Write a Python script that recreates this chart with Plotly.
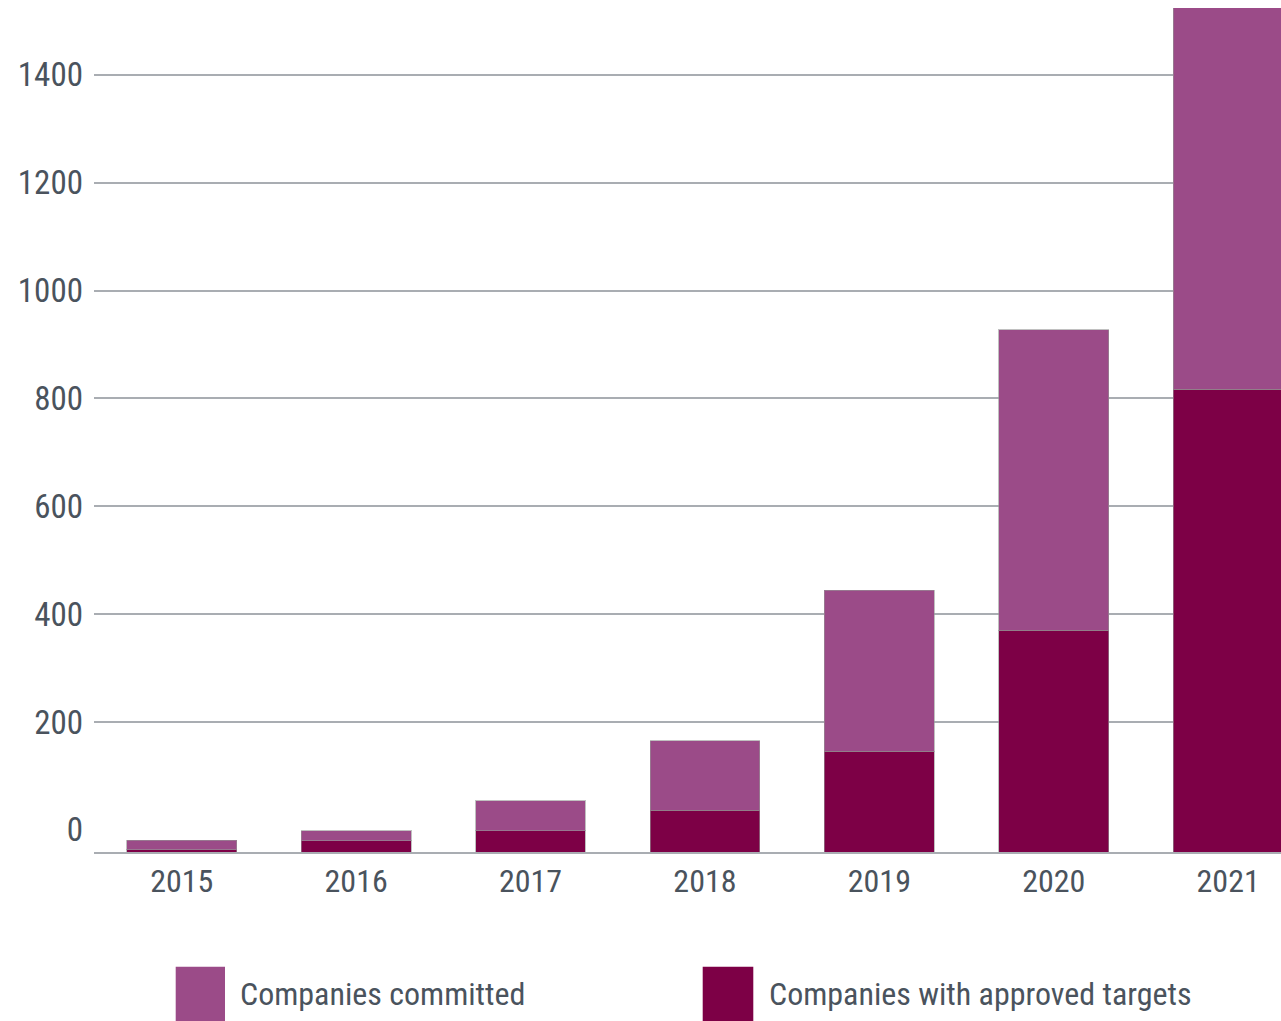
import plotly.graph_objects as go

# Companies setting science-based targets, by year
years = ["2015", "2016", "2017", "2018", "2019", "2020", "2021"]
approved = [4, 21, 39, 77, 187, 411, 858]        # companies with approved targets
committed = [18, 18, 56, 129, 298, 558, 742]     # companies committed (stacked on top)

tick_values = [0, 200, 400, 600, 800, 1000, 1200, 1400]
tick_labels = ["0", "200", "400", "600", "800", "1000", "1200", "1400"]

legend_names = ["Companies committed", "Companies with approved targets"]

COL_COMMITTED = "#9B4B88"
COL_APPROVED = "#7D0046"
TEXT_COL = "#4A535D"
GRID_COL = "#A9ADB2"
FONT = "Liberation Sans Narrow, Arial Narrow, Roboto Condensed, Roboto, sans-serif"

W, H = 1281, 1021
M_L, M_R, M_T, M_B = 94, 0, 8, 169
PLOT_W = W - M_L - M_R
PLOT_H = H - M_T - M_B

# value scale shared by both y axes (pixels per company)
PX_PER_UNIT = 0.5392
BAR_TOP = PLOT_H / PX_PER_UNIT
LABEL_OFFSET = 22.2 / PX_PER_UNIT   # labelled axis sits above the baseline

fig = go.Figure()
# empty trace keeps the labelled y axis (with its grid) in the subplot
fig.add_trace(go.Scatter(x=[], y=[], yaxis="y", showlegend=False, hoverinfo="skip"))
fig.add_trace(go.Bar(
    x=years, y=approved, name=legend_names[1], yaxis="y2",
    marker=dict(color=COL_APPROVED, line=dict(color="rgba(150,150,150,0.6)", width=1)),
    width=0.63, showlegend=False,
))
fig.add_trace(go.Bar(
    x=years, y=committed, name=legend_names[0], yaxis="y2",
    marker=dict(color=COL_COMMITTED, line=dict(color="rgba(150,150,150,0.6)", width=1)),
    width=0.63, showlegend=False,
))


def px_to_paper_x(px):
    return (px - M_L) / PLOT_W


def px_to_paper_y(py):
    return (H - M_B - py) / PLOT_H


# legend swatches and labels
swatches = [(175.7, 225.0, COL_COMMITTED), (702.7, 753.3, COL_APPROVED)]
label_x = [238, 767]
shapes = []
annotations = []
for (x0, x1, col), lx, name in zip(swatches, label_x, legend_names):
    shapes.append(dict(
        type="rect", xref="paper", yref="paper",
        x0=px_to_paper_x(x0), x1=px_to_paper_x(x1),
        y0=px_to_paper_y(966.7), y1=px_to_paper_y(1030),
        fillcolor=col, line=dict(width=0), layer="above",
    ))
    annotations.append(dict(
        text=name, xref="paper", yref="paper",
        x=px_to_paper_x(lx), y=px_to_paper_y(994),
        xanchor="left", yanchor="middle", showarrow=False,
        font=dict(family=FONT, size=32, color=TEXT_COL),
    ))

fig.update_layout(
    width=W, height=H,
    margin=dict(l=M_L, r=M_R, t=M_T, b=M_B, pad=0),
    paper_bgcolor="white", plot_bgcolor="white",
    barmode="stack", bargap=0.37,
    font=dict(family=FONT, color=TEXT_COL),
    xaxis=dict(
        type="category", range=[-0.503, 6.303],
        showline=True, linecolor=GRID_COL, linewidth=2,
        showgrid=False, ticks="", ticklabelstandoff=0,
        tickfont=dict(size=32, color=TEXT_COL),
    ),
    yaxis=dict(
        range=[-LABEL_OFFSET, BAR_TOP - LABEL_OFFSET],
        tickmode="array", tickvals=tick_values, ticktext=tick_labels,
        showgrid=True, gridcolor=GRID_COL, gridwidth=1.5,
        zeroline=True, zerolinecolor="white", zerolinewidth=3,
        showline=False, ticks="", ticklabelstandoff=10,
        tickfont=dict(size=33, color=TEXT_COL),
    ),
    yaxis2=dict(
        range=[0, BAR_TOP], overlaying="y", visible=False,
    ),
    shapes=shapes,
    annotations=annotations,
)

fig.write_html("out.html")
